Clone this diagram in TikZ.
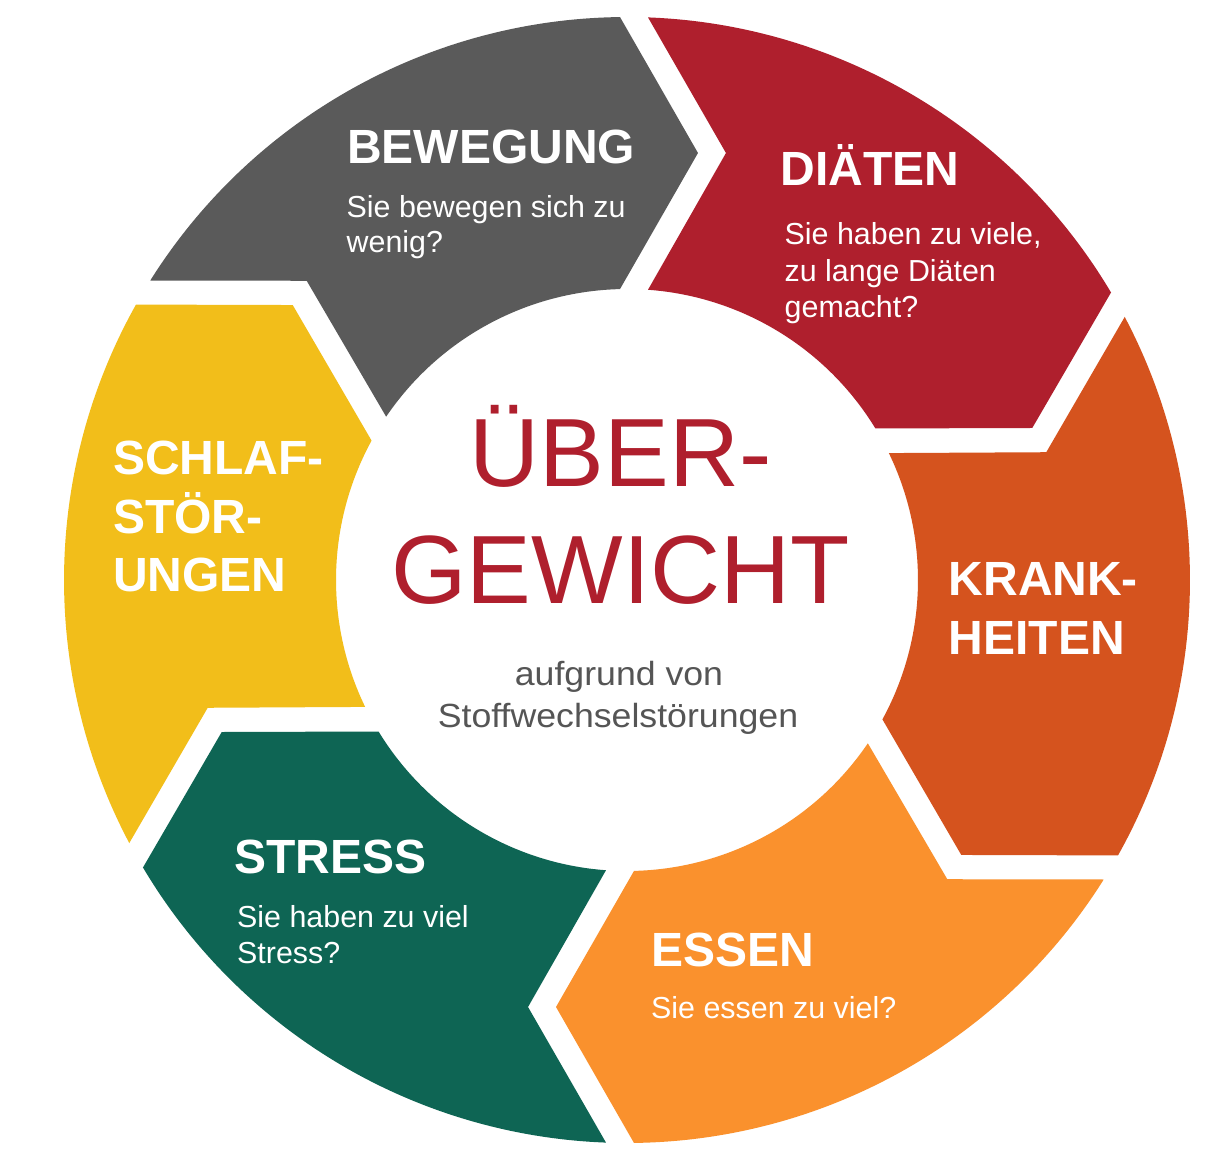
\documentclass[tikz,border=0pt]{standalone}
\usepackage{fontspec}
\usepackage{graphicx}
\setmainfont{Liberation Sans}
\definecolor{cgray}{HTML}{5A5A5A}
\definecolor{cred}{HTML}{AF1F2D}
\definecolor{cored}{HTML}{D5531E}
\definecolor{corange}{HTML}{FA912D}
\definecolor{cgreen}{HTML}{0E6554}
\definecolor{cyellow}{HTML}{F2BE1A}
\definecolor{csub}{HTML}{555555}
\begin{document}
\begin{tikzpicture}[x=1pt,y=1pt,
  ttl/.style={font=\bfseries\fontsize{48}{48}\selectfont, text=white, inner sep=0pt, anchor=base west},
  sub/.style={font=\fontsize{30.4}{30.4}\selectfont, text=white, inner sep=0pt, anchor=base west},
  big/.style={font=\fontsize{97}{97}\selectfont, text=cred, inner sep=0pt, anchor=base},
  csubtxt/.style={font=\fontsize{33.5}{33.5}\selectfont, text=csub, inner sep=0pt, anchor=base}]
\fill[white] (-627,-582) rectangle (599,580);
\useasboundingbox (-627,-582) rectangle (599,580);
% ring segments (arrow shaped, clockwise)
\foreach \e/\c in {90/cgray, 30/cred, -30/cored, -90/corange, -150/cgreen, -210/cyellow} {
  \fill[\c] ({\e+57.86}:563pt) -- ({\e+46.95}:438.33pt) -- ({\e+55.86}:291pt)
    arc[start angle={\e+55.86}, end angle={\e+1.38}, radius=291pt]
    -- ({\e-9.44}:432.86pt) -- ({\e+0.71}:563pt)
    arc[start angle={\e+0.71}, end angle={\e+57.86}, radius=563pt] -- cycle;
}
% BEWEGUNG
\node[ttl] (bewT) at (-280,416.7) {BEWEGUNG};
\node[sub] (bewA) at (-280.5,362.7) {Sie bewegen sich zu};
\node[sub] (bewB) at (-280.5,327.5) {wenig?};
% DIAETEN
\node[ttl] (diaT) at (153.5,394.3) {DIÄTEN};
\node[sub] (diaA) at (157.5,335) {Sie haben zu viele,};
\node[sub] (diaB) at (157.5,298.5) {zu lange Diäten};
\node[sub] (diaC) at (157.5,262) {gemacht?};
% KRANKHEITEN
\node[ttl] (kraA) at (321.5,-15.7) {KRANK-};
\node[ttl] (kraB) at (321.5,-74) {HEITEN};
% ESSEN
\node[ttl] (essT) at (24.5,-386.7) {ESSEN};
\node[sub] (essA) at (24,-438.3) {Sie essen zu viel?};
% STRESS
\node[ttl] (strT) at (-393,-293.3) {STRESS};
\node[sub] (strA) at (-390,-347.3) {Sie haben zu viel};
\node[sub] (strB) at (-390,-383) {Stress?};
% SCHLAFSTOERUNGEN
\node[ttl] (schA) at (-514,105) {SCHLAF-};
\node[ttl] (schB) at (-514,46.7) {STÖR-};
\node[ttl] (schC) at (-514,-11.7) {UNGEN};
% centre
\node[big] (ctrA) at (-6.5,93.3) {ÜBER-};
\node[big] (ctrB) at (-6.5,-23.3) {GEWICHT};
\node[csubtxt] (ctrC) at (-8,-105) {\scalebox{1.065}[1]{aufgrund von}};
\node[csubtxt] (ctrD) at (-9,-147.5) {\scalebox{1.065}[1]{Stoffwechselstörungen}};
\end{tikzpicture}
\end{document}
